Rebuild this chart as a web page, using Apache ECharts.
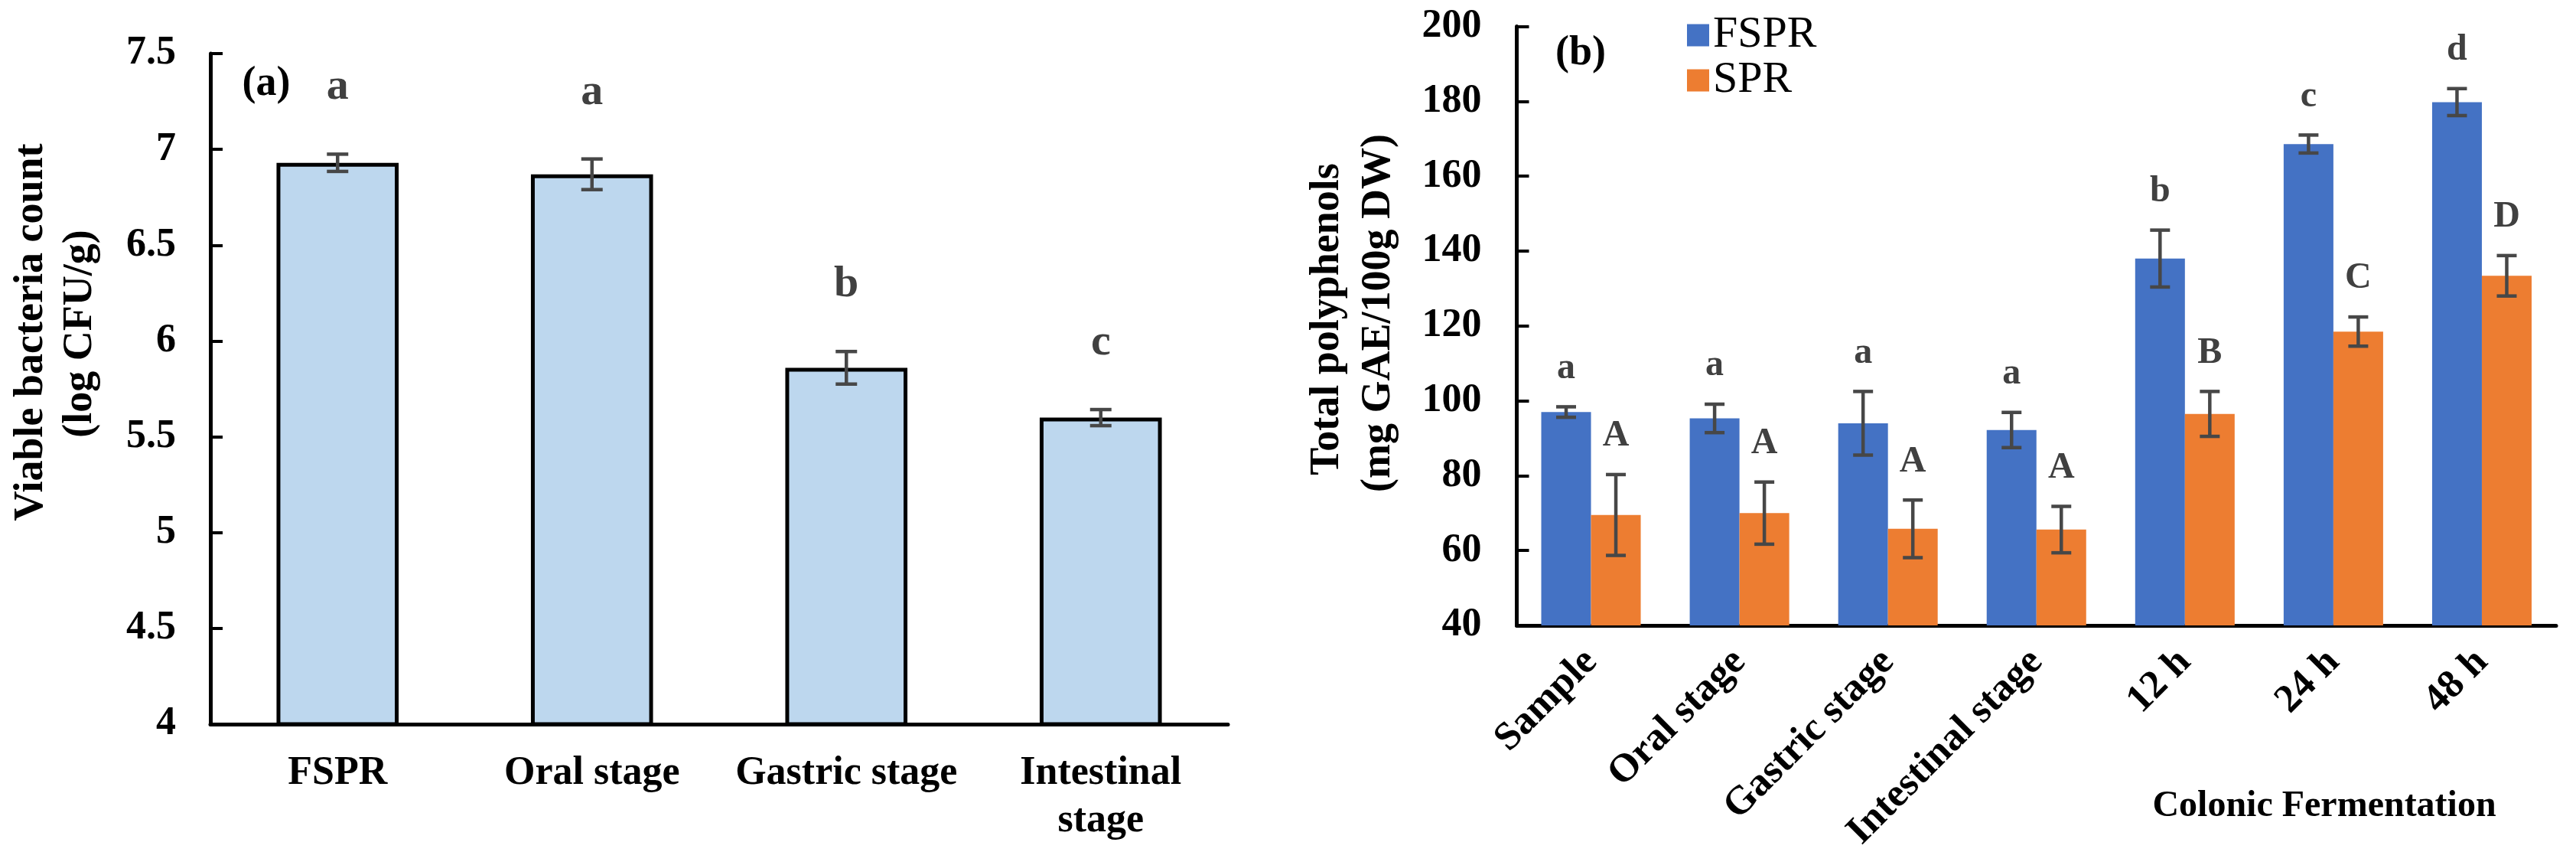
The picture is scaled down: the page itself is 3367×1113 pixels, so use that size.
<!DOCTYPE html>
<html><head><meta charset="utf-8">
<script src="https://cdn.jsdelivr.net/npm/echarts@6/dist/echarts.min.js"></script>
<style>html,body{margin:0;padding:0;background:#fff}#c{width:3367px;height:1113px}</style>
</head><body><div id="c"></div>
<script>
// ---- Panel (a) ----
const catsA = ['FSPR', 'Oral stage', 'Gastric stage', 'Intestinal\nstage'];
const countA = [6.93, 6.87, 5.86, 5.60];
const errA = [0.045, 0.08, 0.085, 0.042];
const letA = ['a', 'a', 'b', 'c'];
const yMinA = 4, yMaxA = 7.5, yStepA = 0.5;

// ---- Panel (b) ----
const catsB = ['Sample', 'Oral stage', 'Gastric stage', 'Intestinal stage', '12 h', '24 h', '48 h'];
const fspr = [97.0, 95.3, 94.0, 92.2, 138.0, 168.6, 179.8];
const fsprErr = [1.4, 3.8, 8.5, 4.7, 7.6, 2.4, 3.6];
const fsprLet = ['a', 'a', 'a', 'a', 'b', 'c', 'd'];
const spr = [69.5, 70.0, 65.8, 65.6, 96.5, 118.5, 133.4];
const sprErr = [10.8, 8.3, 7.7, 6.2, 6.0, 3.9, 5.4];
const sprLet = ['A', 'A', 'A', 'A', 'B', 'C', 'D'];
const yMinB = 40, yMaxB = 200, yStepB = 20;

const FONT = '"Liberation Serif", "Times New Roman", serif';
const ERR_COLOR = '#474747';
const LET_COLOR = '#404040';

function errSeries(name, xi, yi, vals, errs, lets, offsetFrac, gap, fsz, capHalf) {
  return {
    type: 'custom', name: name, xAxisIndex: xi, yAxisIndex: yi, z: 10,
    data: vals.map((v, i) => [i, v, errs[i]]),
    renderItem: function (params, api) {
      const i = api.value(0), v = api.value(1), e = api.value(2);
      const band = api.size([1, 0])[0];
      const x = api.coord([i, v])[0] + offsetFrac * band;
      const top = api.coord([i, v + e])[1];
      const bot = api.coord([i, v - e])[1];
      const st = { stroke: ERR_COLOR, lineWidth: 4.5 };
      return {
        type: 'group', children: [
          { type: 'line', shape: { x1: x, y1: top, x2: x, y2: bot }, style: st },
          { type: 'line', shape: { x1: x - capHalf, y1: top, x2: x + capHalf, y2: top }, style: st },
          { type: 'line', shape: { x1: x - capHalf, y1: bot, x2: x + capHalf, y2: bot }, style: st },
          { type: 'text', x: x, y: top - gap, style: {
              text: lets[params.dataIndex], fill: LET_COLOR, fontFamily: FONT, fontWeight: 'bold',
              fontSize: fsz, align: 'center', verticalAlign: 'bottom' } }
        ]
      };
    }
  };
}

const tickLabel = { color: '#000', fontFamily: FONT, fontWeight: 'bold', fontSize: 52 };

const chart = echarts.init(document.getElementById('c'), null, { renderer: 'canvas' });
chart.setOption({
  backgroundColor: '#fff',
  animation: false,
  grid: [
    { left: 275, top: 70, width: 1330, height: 876, outerBoundsMode: 'none' },
    { left: 1982.5, top: 34.6, width: 1358.5, height: 782.4, outerBoundsMode: 'none' }
  ],
  legend: {
    data: ['FSPR', 'SPR'], orient: 'vertical', left: 2200, top: 12,
    itemWidth: 29, itemHeight: 29, itemGap: 1, icon: 'rect',
    textStyle: { fontFamily: FONT, fontSize: 58, color: '#000', lineHeight: 58, padding: [0, 0, 0, 0] }
  },
  xAxis: [
    { type: 'category', gridIndex: 0, data: catsA,
      axisLine: { lineStyle: { color: '#000', width: 5 } },
      axisTick: { inside: true, length: 11, lineStyle: { color: '#000', width: 4 } },
      axisLabel: Object.assign({ margin: 34, interval: 0, lineHeight: 62 }, tickLabel),
      splitLine: { show: false } },
    { type: 'category', gridIndex: 1, data: catsB,
      axisLine: { lineStyle: { color: '#000', width: 5 } },
      axisTick: { inside: true, length: 11, lineStyle: { color: '#000', width: 4 } },
      axisLabel: Object.assign({ margin: 40, interval: 0, rotate: 45 }, tickLabel),
      splitLine: { show: false } }
  ],
  yAxis: [
    { type: 'value', gridIndex: 0, min: yMinA, max: yMaxA, interval: yStepA,
      axisLine: { show: true, lineStyle: { color: '#000', width: 5 } },
      axisTick: { show: true, inside: true, length: 16, lineStyle: { color: '#000', width: 4 } },
      axisLabel: Object.assign({ margin: 45 }, tickLabel),
      splitLine: { show: false } },
    { type: 'value', gridIndex: 1, min: yMinB, max: yMaxB, interval: yStepB,
      axisLine: { show: true, lineStyle: { color: '#000', width: 5 } },
      axisTick: { show: true, inside: true, length: 16, lineStyle: { color: '#000', width: 4 } },
      axisLabel: Object.assign({ margin: 46 }, tickLabel),
      splitLine: { show: false } }
  ],
  series: [
    { type: 'bar', name: 'count', xAxisIndex: 0, yAxisIndex: 0, data: countA, barWidth: '48%',
      itemStyle: { color: '#BDD7EE', borderColor: '#000', borderWidth: 5 } },
    errSeries('errA', 0, 0, countA, errA, letA, 0, 58, 58, 14),
    { type: 'bar', name: 'FSPR', xAxisIndex: 1, yAxisIndex: 1, data: fspr, barWidth: '33.5%', barGap: '0%',
      itemStyle: { color: '#4472C4' } },
    { type: 'bar', name: 'SPR', xAxisIndex: 1, yAxisIndex: 1, data: spr, barWidth: '33.5%', barGap: '0%',
      itemStyle: { color: '#ED7D31' } },
    errSeries('errF', 1, 1, fspr, fsprErr, fsprLet, -0.1675, 26, 48, 13),
    errSeries('errS', 1, 1, spr, sprErr, sprLet, 0.1675, 26, 48, 13)
  ],
  graphic: [
    { type: 'text', x: 41, y: 434, rotation: Math.PI / 2,
      style: { text: 'Viable bacteria count', fill: '#000', fontFamily: FONT, fontWeight: 'bold', fontSize: 54, align: 'center', verticalAlign: 'middle' } },
    { type: 'text', x: 105, y: 436, rotation: Math.PI / 2,
      style: { text: '(log CFU/g)', fill: '#000', fontFamily: FONT, fontWeight: 'bold', fontSize: 54, align: 'center', verticalAlign: 'middle' } },
    { type: 'text', x: 348, y: 110,
      style: { text: '(a)', fill: '#000', fontFamily: FONT, fontWeight: 'bold', fontSize: 54, align: 'center', verticalAlign: 'middle' } },
    { type: 'text', x: 1735, y: 417, rotation: Math.PI / 2,
      style: { text: 'Total polyphenols', fill: '#000', fontFamily: FONT, fontWeight: 'bold', fontSize: 54, align: 'center', verticalAlign: 'middle' } },
    { type: 'text', x: 1802, y: 409, rotation: Math.PI / 2,
      style: { text: '(mg GAE/100g DW)', fill: '#000', fontFamily: FONT, fontWeight: 'bold', fontSize: 54, align: 'center', verticalAlign: 'middle' } },
    { type: 'text', x: 2066, y: 70,
      style: { text: '(b)', fill: '#000', fontFamily: FONT, fontWeight: 'bold', fontSize: 54, align: 'center', verticalAlign: 'middle' } },
    { type: 'text', x: 3038, y: 1054,
      style: { text: 'Colonic Fermentation', fill: '#000', fontFamily: FONT, fontWeight: 'bold', fontSize: 48, align: 'center', verticalAlign: 'middle' } }
  ]
});
</script>
</body></html>
